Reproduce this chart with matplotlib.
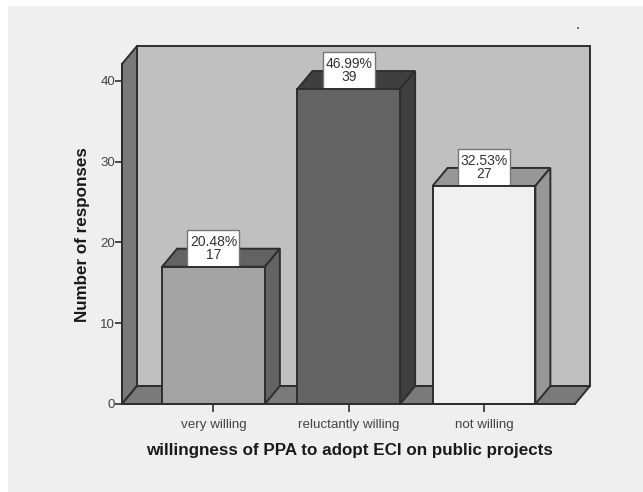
import matplotlib
matplotlib.use("Agg")
import matplotlib.pyplot as plt
from matplotlib.patches import Polygon, Rectangle

plt.rcParams['font.family'] = ['Liberation Sans', 'DejaVu Sans']

categories = ["very willing", "reluctantly willing", "not willing"]
counts = [17, 39, 27]
percents = ["20.48%", "46.99%", "32.53%"]
yticks = [0, 10, 20, 30, 40]

front_cols = ['#a3a3a3', '#636363', '#f0f0f0']
shade_cols = ['#636363', '#3f3f3f', '#979797']
edge = '#2e2e2e'
lw = 1.4

fig = plt.figure(figsize=(6.43, 4.92), dpi=100, facecolor='white')
# grey page with white strip on top and left
fig.patches.append(Rectangle((8/643, 0), 635/643, 486/492, transform=fig.transFigure,
                             facecolor='#efefef', edgecolor='none', zorder=-5))

# axes = front plane of the 3d box
ax = fig.add_axes([122/643, 1-404/492, 453/643, 340/492])
ax.patch.set_visible(False)
ax.set_xlim(-0.6765, 2.673)
ax.set_ylim(0, 42.1)

x0, x1 = ax.get_xlim()
y1 = ax.get_ylim()[1]
dx = 15/135.25   # depth of the box
dy = 18/8.07
bw = 0.76
box_w = 52/135.25   # label box
box_h = 37/8.07

def poly(pts, col, z):
    ax.add_patch(Polygon(pts, closed=True, facecolor=col, edgecolor=edge, linewidth=lw,
                         joinstyle='miter', clip_on=False, zorder=z))

# walls and floor
poly([(x0+dx, dy), (x1+dx, dy), (x1+dx, y1+dy), (x0+dx, y1+dy)], '#c0c0c0', 1)
poly([(x0, 0), (x0+dx, dy), (x0+dx, y1+dy), (x0, y1)], '#7a7a7a', 1.1)
poly([(x0, 0), (x1, 0), (x1+dx, dy), (x0+dx, dy)], '#7a7a7a', 1.1)

# bars
for i, v in enumerate(counts):
    l = i - bw/2
    r = i + bw/2
    poly([(l, v), (r, v), (r+dx, v+dy), (l+dx, v+dy)], shade_cols[i], 2)
    poly([(r, 0), (r+dx, dy), (r+dx, v+dy), (r, v)], shade_cols[i], 2)
    ax.add_patch(Rectangle((i-box_w/2, v), box_w, box_h, facecolor='white', edgecolor='#777777',
                           linewidth=1, clip_on=False, zorder=2.5))
    ax.bar(i, v, width=bw, color=front_cols[i], edgecolor=edge, linewidth=lw, zorder=3)
    ax.text(i, v+box_h/2, percents[i] + "\n" + str(v), ha='center', va='center', fontsize=10,
            color='#333333', linespacing=0.92, zorder=5, clip_on=False)

ax.spines['top'].set_visible(False)
ax.spines['right'].set_visible(False)
for s in ['left', 'bottom']:
    ax.spines[s].set_color(edge)
    ax.spines[s].set_linewidth(lw)
    ax.spines[s].set_zorder(4)

ax.set_xticks(range(len(categories)))
ax.set_xticklabels(categories, fontsize=9.6, color='#444444')
ax.set_yticks(yticks)
ax.set_yticklabels([str(t) for t in yticks], fontsize=9.5, color='#444444')
ax.tick_params(axis='x', length=6, width=1.2, color=edge, pad=4.5)
ax.tick_params(axis='y', length=5, width=1.2, color=edge, pad=0)

fig.text(349/643, 1-450/492, "willingness of PPA to adopt ECI on public projects",
         ha='center', va='center', fontsize=12.25, fontweight='bold', color='#1a1a1a')
fig.text(82/643, 1-235/492, "Number of responses", rotation=90,
         ha='center', va='center', fontsize=12.25, fontweight='bold', color='#1a1a1a')
fig.text(578/643, 1-29/492, ".", ha='center', va='baseline', fontsize=11, color='#333333')

fig.savefig("out.png", dpi=100)
